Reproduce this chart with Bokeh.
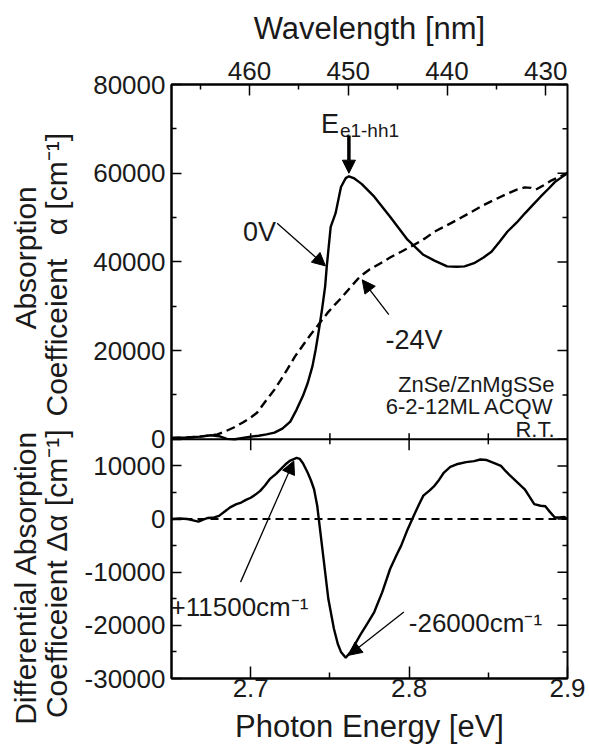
import numpy as np
from bokeh.plotting import figure
from bokeh.models import Range1d, LinearAxis, FixedTicker, Span, Label, Arrow, NormalHead
from bokeh.embed import file_html
from bokeh.resources import INLINE

# ---------------- data ----------------
energy_0v = [2.650, 2.660, 2.668, 2.675, 2.680, 2.685, 2.690, 2.695, 2.700, 2.705,
             2.710, 2.715, 2.720, 2.725, 2.729, 2.733, 2.736, 2.739, 2.741, 2.743,
             2.745, 2.747, 2.748, 2.7505, 2.7536, 2.757, 2.760, 2.762, 2.765, 2.770,
             2.778, 2.788, 2.799, 2.809, 2.816, 2.824, 2.830, 2.835, 2.841, 2.847,
             2.852, 2.857, 2.862, 2.868, 2.873, 2.878, 2.883, 2.888, 2.892, 2.896, 2.900]
alpha_0v = [300, 400, 600, 900, 700, 100, 0, 300, 600, 800,
            1100, 1500, 2400, 4000, 6700, 9800, 12700, 16500, 20200, 24500,
            29200, 34500, 38900, 47900, 51000, 56900, 58900, 59300, 58900, 57600,
            54700, 50200, 45000, 41600, 40300, 39000, 38900, 39000, 39700, 41000,
            42300, 44500, 46800, 48900, 50900, 52800, 54700, 56500, 58000, 59000, 60000]

energy_24v = [2.650, 2.660, 2.668, 2.675, 2.679, 2.684, 2.689, 2.695, 2.700, 2.704,
              2.709, 2.715, 2.719, 2.723, 2.728, 2.734, 2.738, 2.742, 2.7485, 2.753,
              2.757, 2.763, 2.769, 2.775, 2.782, 2.788, 2.795, 2.803, 2.810, 2.816,
              2.823, 2.830, 2.838, 2.847, 2.855, 2.862, 2.868, 2.873, 2.877, 2.880,
              2.885, 2.890, 2.895, 2.900]
alpha_24v = [300, 400, 600, 900, 1100, 1800, 2600, 3800, 4900, 6000,
             8400, 11200, 13400, 15700, 18700, 21700, 23700, 25500, 28500, 30300,
             31800, 34300, 36700, 38300, 39700, 41000, 42300, 43800, 45300, 46800,
             48100, 49400, 51000, 52800, 54200, 55400, 56300, 56800, 56700, 56300,
             57300, 58400, 59200, 60000]

energy_diff = [2.650, 2.655, 2.660, 2.663, 2.667, 2.670, 2.673, 2.677, 2.680, 2.684,
               2.687, 2.691, 2.694, 2.697, 2.700, 2.703, 2.706, 2.709, 2.712, 2.716,
               2.719, 2.722, 2.725, 2.729, 2.731, 2.733, 2.736, 2.738, 2.740, 2.742,
               2.743, 2.746, 2.749, 2.7525, 2.755, 2.757, 2.760, 2.763, 2.766, 2.769,
               2.774, 2.778, 2.783, 2.788, 2.792, 2.795, 2.799, 2.802, 2.806, 2.809,
               2.813, 2.816, 2.819, 2.822, 2.826, 2.830, 2.836, 2.841, 2.845, 2.849,
               2.853, 2.858, 2.861, 2.864, 2.868, 2.873, 2.876, 2.879, 2.883, 2.886,
               2.889, 2.892, 2.895, 2.898, 2.900]
delta_alpha = [0, 100, 0, -200, -500, -100, 200, 300, 600, 1500,
               2200, 2800, 3100, 3600, 4000, 4600, 5300, 6300, 7500, 8500,
               9400, 10300, 11000, 11500, 11300, 10500, 8700, 7300, 5600, 2500,
               0, -7500, -15000, -20600, -23500, -25000, -26100, -25000, -23500, -21900,
               -19500, -17500, -13800, -9400, -6800, -5000, -2000, 0, 2600, 4400,
               5400, 6250, 7400, 8750, 9800, 10300, 10700, 10900, 11200, 11100,
               10600, 10000, 9000, 8100, 7000, 5600, 4200, 2800, 2500, 2400,
               1300, 300, 300, 400, 0]

energy_ticks = [2.7, 2.8, 2.9]
energy_tick_labels = ["2.7", "2.8", "2.9"]
energy_minor = [2.75, 2.85]
wl_ticks = [460, 450, 440, 430]
wl_tick_labels = ["460", "450", "440", "430"]
wl_minor = [465, 455, 445, 435]
alpha_ticks = [0, 20000, 40000, 60000, 80000]
alpha_tick_labels = ["0", "20000", "40000", "60000", "80000"]
alpha_minor = [10000, 30000, 50000, 70000]
diff_ticks = [-30000, -20000, -10000, 0, 10000]
diff_tick_labels = ["-30000", "-20000", "-10000", "0", "10000"]
diff_minor = [-25000, -15000, -5000, 5000]

ylabel_top = ["Absorption", "Coefficeient\u2002 \u03b1 [cm\u207b\u00b9]"]
ylabel_bottom = ["Differential Absorption", "Coefficeient \u0394\u03b1 [cm\u207b\u00b9]"]

# ---------------- layout ----------------
X_RANGE = (2.65, 2.9)
WL_RANGE = (467.9, 427.8)
A_LO, A_HI = 0, 80000
D_LO, D_HI = -30000, 15000
F_TOP = 356 / 596.0   # share of the frame height used by the upper panel

a_start = A_LO - (A_HI - A_LO) * (1 - F_TOP) / F_TOP
d_end = D_HI + (D_HI - D_LO) * F_TOP / (1 - F_TOP)


def d_to_a(d):
    return a_start + (d - D_LO) * (A_HI - a_start) / (d_end - D_LO)


FONT = "Liberation Sans"
INK = "#1a1a1a"

p = figure(width=589, height=746,
           x_range=Range1d(*X_RANGE), y_range=Range1d(a_start, A_HI),
           x_axis_location=None, y_axis_location=None,
           output_backend="svg", toolbar_location=None,
           min_border_left=171, min_border_right=22,
           min_border_top=84, min_border_bottom=66,
           background_fill_color="white", border_fill_color="white",
           outline_line_color="black", outline_line_width=2)
p.extra_x_ranges = {"wl": Range1d(*WL_RANGE)}
p.extra_y_ranges = {"diff": Range1d(D_LO, d_end)}
p.grid.visible = False


def style(ax, tin, min_in, size="26px"):
    ax.major_tick_in = tin
    ax.major_tick_out = 0
    ax.minor_tick_in = min_in
    ax.minor_tick_out = 0
    ax.major_tick_line_width = 1.5
    ax.minor_tick_line_width = 1.5
    ax.axis_line_width = 2
    ax.major_label_text_font = FONT
    ax.major_label_text_font_size = size
    ax.major_label_text_color = INK
    ax.axis_label_text_font = FONT
    ax.axis_label_text_font_style = "normal"
    ax.axis_label_text_color = INK


# left axis: both panels share one tick list
y_major = alpha_ticks + [d_to_a(d) for d in diff_ticks]
y_minor = alpha_minor + [d_to_a(d) for d in diff_minor]
y_labels = dict(zip(y_major, alpha_tick_labels + diff_tick_labels))

left = LinearAxis(ticker=FixedTicker(ticks=y_major, minor_ticks=y_minor),
                  major_label_overrides=y_labels)
style(left, 10, 5)
left.major_label_standoff = 6
p.add_layout(left, "left")

# the two-line y titles, one axis per line so that both panels get their own title
title_centres_line2 = [37100, d_to_a(-10300)]
title_centres_line1 = [40900, d_to_a(-11000)]
for centres, texts, standoff in ((title_centres_line2, [ylabel_top[1], ylabel_bottom[1]], 8),
                                 (title_centres_line1, [ylabel_top[0], ylabel_bottom[0]], -5)):
    ax = LinearAxis(ticker=FixedTicker(ticks=centres, minor_ticks=[]),
                    major_label_overrides=dict(zip(centres, texts)),
                    major_label_orientation="vertical")
    style(ax, 0, 0, size="30px")
    ax.axis_line_color = None
    ax.major_tick_line_color = None
    ax.minor_tick_line_color = None
    ax.major_label_standoff = standoff
    p.add_layout(ax, "left")

# top: wavelength axis
top = LinearAxis(x_range_name="wl",
                 ticker=FixedTicker(ticks=wl_ticks, minor_ticks=wl_minor),
                 major_label_overrides=dict(zip(wl_ticks, wl_tick_labels)),
                 axis_label="Wavelength [nm]")
style(top, 11, 5)
top.major_label_standoff = 5
top.axis_label_standoff = 13
top.axis_label_text_font_size = "31px"
p.add_layout(top, "above")

# bottom: photon energy axis
bottom = LinearAxis(ticker=FixedTicker(ticks=energy_ticks, minor_ticks=energy_minor),
                    major_label_overrides=dict(zip(energy_ticks, energy_tick_labels)),
                    axis_label="Photon Energy [eV]")
style(bottom, 12, 6)
bottom.major_label_standoff = 0
bottom.axis_label_standoff = 9
bottom.axis_label_text_font_size = "31px"
p.add_layout(bottom, "below")

# inward ticks on the right edge of both panels
p.ray(x=[X_RANGE[1]] * len(alpha_ticks), y=alpha_ticks, length=10, angle=np.pi,
      length_units="screen", line_color="black", line_width=1.5)
p.ray(x=[X_RANGE[1]] * len(alpha_minor), y=alpha_minor, length=5, angle=np.pi,
      length_units="screen", line_color="black", line_width=1.5)
p.ray(x=[X_RANGE[1]] * len(diff_ticks), y=diff_ticks, y_range_name="diff", length=10,
      angle=np.pi, length_units="screen", line_color="black", line_width=1.5)
p.ray(x=[X_RANGE[1]] * len(diff_minor), y=diff_minor, y_range_name="diff", length=5,
      angle=np.pi, length_units="screen", line_color="black", line_width=1.5)

# boundary between the two panels and its ticks
p.add_layout(Span(location=A_LO, dimension="width", line_color="black", line_width=2))
mid_ticks = energy_ticks[:-1] + energy_minor
p.ray(x=mid_ticks, y=[A_LO] * len(mid_ticks), length=6, angle=np.pi / 2,
      length_units="screen", line_color="black", line_width=1.5)
p.ray(x=energy_ticks[:-1], y=[A_LO] * 2, length=11, angle=-np.pi / 2,
      length_units="screen", line_color="black", line_width=1.5)
p.ray(x=energy_minor, y=[A_LO] * 2, length=5, angle=-np.pi / 2,
      length_units="screen", line_color="black", line_width=1.5)

# zero line of the lower panel
p.add_layout(Span(location=0, dimension="width", y_range_name="diff",
                  line_color="black", line_width=2, line_dash="8 5"))

# curves
p.line(energy_0v, alpha_0v, line_color="black", line_width=2.4)
p.line(energy_24v, alpha_24v, line_color="black", line_width=2.4, line_dash="9 5")
p.line(energy_diff, delta_alpha, y_range_name="diff", line_color="black", line_width=2.4)


def lab(text, x, y, size="26px", align="left", rng="default", xo=0):
    p.add_layout(Label(x=x, y=y, text=text, text_font=FONT, text_font_size=size,
                       text_color=INK, text_align=align, text_baseline="alphabetic",
                       y_range_name=rng, x_offset=xo))


def arrow(x0, y0, x1, y1, width=1.3, size=13, rng="default"):
    p.add_layout(Arrow(end=NormalHead(size=size, fill_color="black", line_color="black",
                                      line_width=1),
                       x_start=x0, y_start=y0, x_end=x1, y_end=y1,
                       line_color="black", line_width=width, y_range_name=rng))


# E_e1-hh1 marker
E_PEAK = 2.762
lab("E", E_PEAK, 71170, size="27px", align="right", xo=-10)
lab("e1-hh1", E_PEAK, 69660, size="19px", align="left", xo=-9)
arrow(E_PEAK, 68500, E_PEAK, 60000, width=3.5, size=13)

# curve labels
lab("0V", 2.7160, 46700, size="27px", align="right")
arrow(2.7167, 48700, 2.7472, 39100)
lab("-24V", 2.7851, 22470, size="27px")
arrow(2.7872, 28090, 2.7704, 35955)

# sample description
lab("ZnSe/ZnMgSSe", 2.8918, 12360, size="22px", align="right")
lab("6-2-12ML ACQW", 2.8918, 7490, size="22px", align="right")
lab("R.T.", 2.8918, 2250, size="22px", align="right")

# differential annotations
lab("+11500cm\u207b\u00b9", 2.6494, -16560, rng="diff")
arrow(2.6936, -11870, 2.7272, 10930, rng="diff")
lab("-26000cm\u207b\u00b9", 2.7998, -19500, rng="diff")
arrow(2.7967, -17500, 2.7619, -25630, rng="diff")

open("out.html", "w").write(file_html(p, INLINE))
